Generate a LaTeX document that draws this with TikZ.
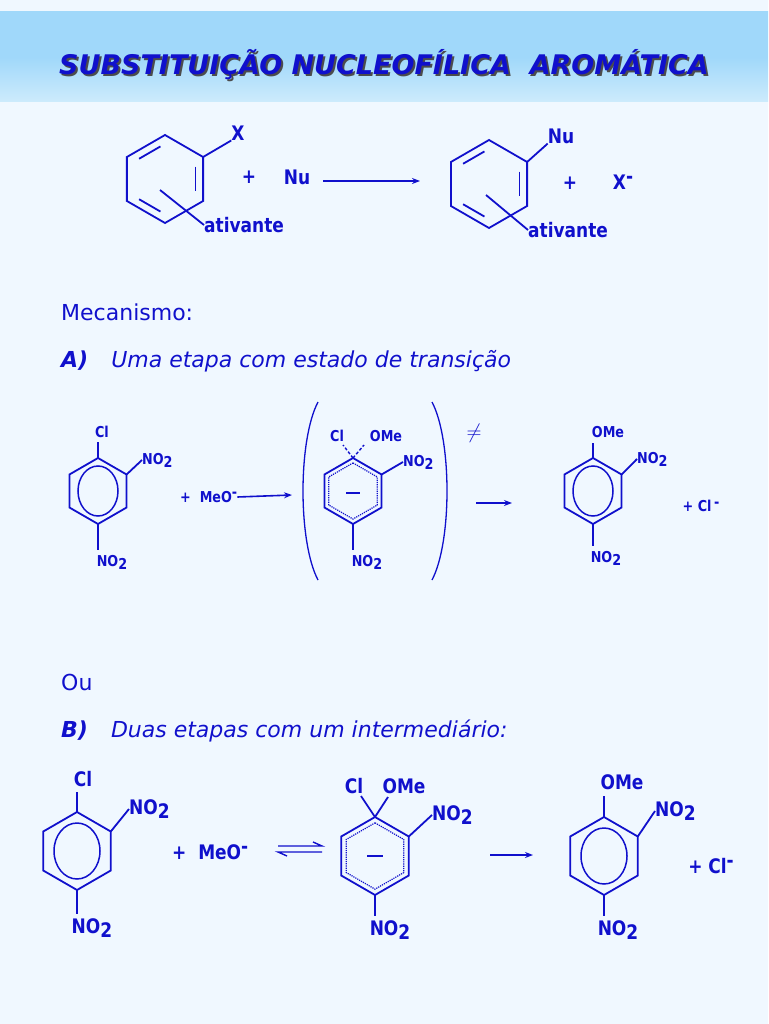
\documentclass[tikz,border=0pt]{standalone}
\usepackage{fontspec}
\setmainfont{DejaVu Sans}
\newfontfamily\chem[FakeStretch=0.85]{DejaVu Sans}
\newfontfamily\ttl{DejaVu Sans}
\definecolor{bg}{HTML}{F0F8FF}
\definecolor{ink}{HTML}{1010CC}
\definecolor{band}{HTML}{A0D8FA}
\definecolor{bandlt}{HTML}{CDEBFC}
\newcommand{\NOtwo}{NO\raisebox{-0.35ex}{2}}
\newcommand{\minus}{\raisebox{0.55ex}{-}}
\tikzset{
 bond/.style={draw=ink,line width=1.8pt},
 lbl/.style={text=ink,font=\chem\bfseries\fontsize{#1}{#1}\selectfont,inner sep=0pt},
 txt/.style={text=ink,font=\fontsize{22}{26}\selectfont,anchor=west,inner sep=0pt},
 arr/.style={draw=ink,line width=1.6pt,-{Stealth[length=8pt]}},
}
\newcommand{\hexring}[4]{%
 \foreach \a in {270,330,30,90,150,210}{\coordinate (#1-\a) at ($(#2,#3)+(\a:#4)$);}
 \coordinate (#1-c) at (#2,#3);
 \draw[bond,line join=miter] (#1-270)--(#1-330)--(#1-30)--(#1-90)--(#1-150)--(#1-210)--cycle;}
\newcommand{\dbl}[3]{\draw[bond] ($($(#1-#2)!.15!(#1-#3)$)!.2!(#1-c)$) -- ($($(#1-#2)!.85!(#1-#3)$)!.2!(#1-c)$);}
\newcommand{\dotring}[2]{\draw[ink,densely dotted,line width=1.2pt] ($(#1-270)!#2!(#1-c)$)--($(#1-330)!#2!(#1-c)$)--($(#1-30)!#2!(#1-c)$)--($(#1-90)!#2!(#1-c)$)--($(#1-150)!#2!(#1-c)$)--($(#1-210)!#2!(#1-c)$)--cycle;}
\usetikzlibrary{calc,arrows.meta}
\begin{document}
\begin{tikzpicture}[x=1pt,y=-1pt]
\useasboundingbox (0,0) rectangle (768,1024);
\fill[bg] (0,0) rectangle (768,1024);
\shade[top color=band,bottom color=bandlt,middle color=band] (0,12) rectangle (768,102);
\node[font=\ttl\bfseries\itshape\fontsize{27}{30}\selectfont,text=black!70] at (386,67) {SUBSTITUIÇÃO NUCLEOFÍLICA\ \ AROMÁTICA};
\node[font=\ttl\bfseries\itshape\fontsize{27}{30}\selectfont,text=ink] (title) at (384,65) {SUBSTITUIÇÃO NUCLEOFÍLICA\ \ AROMÁTICA};
% top reaction
\hexring{t1}{165}{179}{44}
\dbl{t1}{210}{270}\dbl{t1}{330}{30}\dbl{t1}{150}{90}
\node[lbl=20] (X) at (238,133) {X};
\draw[bond] (t1-330)--(X.south west);
\node[lbl=20,anchor=west] (at1) at (204,225) {ativante};
\draw[bond] (160,190)--(at1.west);
\node[lbl=20] (p1) at (249,177) {+};
\node[lbl=20] (nu) at (297,177) {Nu};
\draw[arr] (323,181)--(420,181);
\hexring{t2}{489}{184}{44}
\dbl{t2}{210}{270}\dbl{t2}{330}{30}\dbl{t2}{150}{90}
\node[lbl=20] (Nu2) at (561,136) {Nu};
\draw[bond] (t2-330)--(Nu2.south west);
\node[lbl=20,anchor=west] (at2) at (528,230) {ativante};
\draw[bond] (486,195)--(at2.west);
\node[lbl=20] (p2) at (570,183) {+};
\node[lbl=20] (xm) at (623,182) {X\minus};
% Mecanismo
\node[txt] (mec) at (61,312) {Mecanismo:};
\node[txt] (A) at (61,361) {\bfseries\itshape A)\ \ \ \mdseries Uma etapa com estado de transição};
% ---- A row
\hexring{a1}{98}{491}{33}
\draw[ink,line width=1.5pt] (98,491) ellipse (20 and 25);
\node[lbl=15] (aCl) at (102,432) {Cl};
\draw[bond] (a1-270)--(98,442);
\node[lbl=15,anchor=west] (aN1) at (142,460) {\NOtwo};
\draw[bond] (a1-330)--(aN1.west);
\node[lbl=15] (aN2) at (112,562) {\NOtwo};
\draw[bond] (a1-90)--(98,550);
\node[lbl=15,anchor=west] (meo) at (180,497) {+\ \ MeO\minus};
\draw[arr] (meo.east)--(292,495);
\draw[ink,line width=1.3pt] (318,402) .. controls (298,440) and (298,542) .. (318,580);
\draw[ink,line width=1.3pt] (432,402) .. controls (452,440) and (452,542) .. (432,580);
\node[text=ink,font=\fontsize{22}{22}\selectfont] (ne) at (474,433) {$\neq$};
\hexring{b1}{353}{491}{33}
\dotring{b1}{0.15}
\draw[ink,line width=1.2pt] (346,493)--(360,493);
\node[lbl=15] (bCl) at (337,436) {Cl};
\node[lbl=15] (bOMe) at (386,436) {OMe};
\draw[ink,line width=1.4pt,densely dashed] (b1-270)--(343,445);
\draw[ink,line width=1.4pt,densely dashed] (b1-270)--(364,445);
\node[lbl=15,anchor=west] (bN1) at (403,462) {\NOtwo};
\draw[bond] (b1-330)--(bN1.west);
\node[lbl=15] (bN2) at (367,562) {\NOtwo};
\draw[bond] (b1-90)--(353,550);
\draw[arr] (476,503)--(512,503);
\hexring{c1}{593}{491}{33}
\draw[ink,line width=1.5pt] (593,491) ellipse (20 and 25);
\node[lbl=15] (cOMe) at (608,432) {OMe};
\draw[bond] (c1-270)--(593,443);
\node[lbl=15,anchor=west] (cN1) at (637,459) {\NOtwo};
\draw[bond] (c1-330)--(cN1.west);
\node[lbl=15] (cN2) at (606,558) {\NOtwo};
\draw[bond] (c1-90)--(593,546);
\node[lbl=15] (cl1) at (701,506) {+ Cl\,\minus};
% Ou / B
\node[txt] (ou) at (61,682) {Ou};
\node[txt] (B) at (61,731) {\bfseries\itshape B)\ \ \ \mdseries Duas etapas com um intermediário:};
\hexring{d1}{77}{851}{39}
\draw[ink,line width=1.5pt] (77,851) ellipse (23 and 28);
\node[lbl=20] (dCl) at (83,779) {Cl};
\draw[bond] (d1-270)--(77,792);
\node[lbl=20,anchor=west] (dN1) at (129,809) {\NOtwo};
\draw[bond] (d1-330)--(dN1.west);
\node[lbl=20] (dN2) at (92,928) {\NOtwo};
\draw[bond] (d1-90)--(77,914);
\node[lbl=20,anchor=west] (meo2) at (172,852) {+\ \ MeO\minus};
\coordinate (eqa) at (278,846); \coordinate (eqb) at (322,846);
\coordinate (eqc) at (322,852); \coordinate (eqd) at (278,852);
\draw[ink,line width=1.4pt] (eqa)--(eqb)--++(-9,-4);
\draw[ink,line width=1.4pt] (eqc)--(eqd)--++(9,4);
\hexring{e1}{375}{856}{39}
\dotring{e1}{0.15}
\draw[ink,line width=1.2pt] (367,856)--(383,856);
\node[lbl=20] (eCl) at (354,786) {Cl};
\node[lbl=20] (eOMe) at (404,786) {OMe};
\draw[bond] (e1-270)--(361,796);
\draw[bond] (e1-270)--(388,797);
\node[lbl=20,anchor=west] (eN1) at (432,815) {\NOtwo};
\draw[bond] (e1-330)--(eN1.west);
\node[lbl=20] (eN2) at (390,930) {\NOtwo};
\draw[bond] (e1-90)--(375,916);
\draw[arr] (490,855)--(533,855);
\hexring{f1}{604}{856}{39}
\draw[ink,line width=1.5pt] (604,856) ellipse (23 and 28);
\node[lbl=20] (fOMe) at (622,782) {OMe};
\draw[bond] (f1-270)--(604,796);
\node[lbl=20,anchor=west] (fN1) at (655,811) {\NOtwo};
\draw[bond] (f1-330)--(fN1.west);
\node[lbl=20] (fN2) at (618,930) {\NOtwo};
\draw[bond] (f1-90)--(604,916);
\node[lbl=20] (cl2) at (711,866) {+ Cl\minus};
\end{tikzpicture}
\end{document}
